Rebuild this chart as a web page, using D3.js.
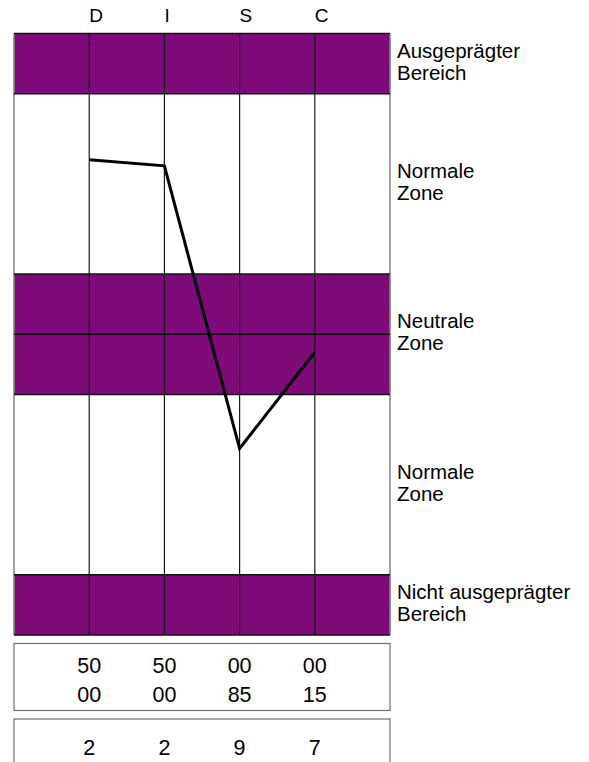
<!DOCTYPE html>
<html>
<head>
<meta charset="utf-8">
<script src="https://cdn.jsdelivr.net/npm/d3@7"></script>
<style>
  body { margin: 0; background: #fff; }
  svg text { font-family: "Liberation Sans", Arial, sans-serif; fill: #000; }
</style>
</head>
<body>
<script>
/* DISC factors and plotted graph values (0 = bottom, 100 = top) */
var factors = ["D", "I", "S", "C"];
var graphValues = [79, 78, 31, 47];

/* Zones of the graph, top to bottom */
var zoneNames = [
  ["Ausgeprägter", "Bereich"],
  ["Normale", "Zone"],
  ["Neutrale", "Zone"],
  ["Normale", "Zone"],
  ["Nicht ausgeprägter", "Bereich"]
];
var zoneTop = [100, 90, 60, 40, 10];
var zoneBottom = [90, 60, 40, 10, 0];
var zoneShaded = [true, false, true, false, true];
var gridLevels = [100, 90, 60, 50, 40, 10, 0];

/* Table rows below the graph */
var rowUpper = ["50", "50", "00", "00"];
var rowLower = ["00", "00", "85", "15"];
var scores = ["2", "2", "9", "7"];

var purple = "#7f0a79";

var svg = d3.select("body").append("svg")
    .attr("width", 589)
    .attr("height", 762);

/* column index -1 is the left edge, 4 the right edge */
var x = d3.scaleLinear().domain([-1, 4]).range([14, 390]);
var y = d3.scaleLinear().domain([100, 0]).range([33.5, 635]);

/* shaded zones */
svg.selectAll(".zone")
    .data(zoneTop)
  .enter().append("rect")
    .attr("class", "zone")
    .attr("x", x(-1))
    .attr("width", x(4) - x(-1))
    .attr("y", function(d) { return y(d); })
    .attr("height", function(d, i) { return y(zoneBottom[i]) - y(d); })
    .attr("fill", function(d, i) { return zoneShaded[i] ? purple : "#fff"; });

/* vertical column lines */
svg.selectAll(".vline")
    .data(d3.range(-1, 5))
  .enter().append("line")
    .attr("class", "vline")
    .attr("x1", function(d) { return x(d); })
    .attr("x2", function(d) { return x(d); })
    .attr("y1", y(100))
    .attr("y2", y(0))
    .attr("stroke", function(d) { return (d === -1 || d === 4) ? "#808080" : "#1a1a1a"; })
    .attr("stroke-width", function(d) { return (d === -1 || d === 4) ? 1.5 : 1.2; });

/* horizontal zone borders */
svg.selectAll(".hline")
    .data(gridLevels)
  .enter().append("line")
    .attr("class", "hline")
    .attr("x1", x(-1))
    .attr("x2", x(4))
    .attr("y1", function(d) { return y(d); })
    .attr("y2", function(d) { return y(d); })
    .attr("stroke", "#111")
    .attr("stroke-width", 1.5);

/* factor headers, left aligned on the column line */
svg.selectAll(".factor")
    .data(factors)
  .enter().append("text")
    .attr("class", "factor")
    .attr("x", function(d, i) { return x(i); })
    .attr("y", 21.5)
    .attr("font-size", 19)
    .text(function(d) { return d; });

/* profile line */
var line = d3.line()
    .x(function(d, i) { return x(i); })
    .y(function(d) { return y(d); });

svg.append("path")
    .datum(graphValues)
    .attr("d", line)
    .attr("fill", "none")
    .attr("stroke", "#000")
    .attr("stroke-width", 3)
    .attr("stroke-linejoin", "miter");

/* zone labels on the right */
var labels = svg.selectAll(".zlabel")
    .data(zoneNames)
  .enter().append("text")
    .attr("class", "zlabel")
    .attr("font-size", 20.5)
    .attr("x", 397)
    .attr("y", function(d, i) { return (y(zoneTop[i]) + y(zoneBottom[i])) / 2 - 6; });

labels.selectAll("tspan")
    .data(function(d) { return d; })
  .enter().append("tspan")
    .attr("x", 397)
    .attr("dy", function(d, i) { return i === 0 ? 0 : 22; })
    .text(function(d) { return d; });

/* table boxes */
svg.append("rect")
    .attr("x", x(-1)).attr("y", 643.5)
    .attr("width", x(4) - x(-1)).attr("height", 67)
    .attr("fill", "none").attr("stroke", "#707070").attr("stroke-width", 1.2);

svg.append("rect")
    .attr("x", x(-1)).attr("y", 719)
    .attr("width", x(4) - x(-1)).attr("height", 80)
    .attr("fill", "none").attr("stroke", "#707070").attr("stroke-width", 1.2);

function tableRow(values, baseline, cls) {
  svg.selectAll("." + cls)
      .data(values)
    .enter().append("text")
      .attr("class", cls)
      .attr("x", function(d, i) { return x(i); })
      .attr("y", baseline)
      .attr("text-anchor", "middle")
      .attr("font-size", 21.5)
      .text(function(d) { return d; });
}

tableRow(rowUpper, 672.5, "upper");
tableRow(rowLower, 702, "lower");
tableRow(scores, 755, "score");
</script>
</body>
</html>
